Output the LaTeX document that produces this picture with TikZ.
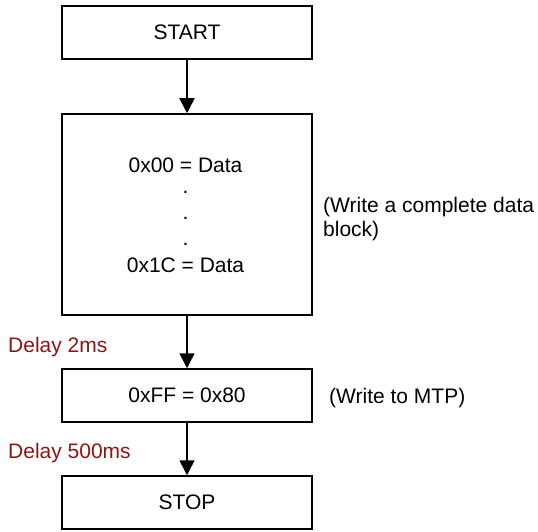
\documentclass[tikz,border=0pt]{standalone}
\usepackage{fontspec}
\setmainfont{Liberation Sans}
\usetikzlibrary{arrows.meta}
\definecolor{delayred}{RGB}{139,22,22}
\tikzset{
  flowbox/.style={draw=black, line width=1.5pt, minimum width=250pt, inner sep=0pt, font=\fontsize{21}{24}\selectfont},
  flowtext/.style={inner sep=0pt, font=\fontsize{21}{24}\selectfont},
  delaytext/.style={inner sep=0pt, text=delayred, font=\fontsize{21}{24}\selectfont},
  flowarrow/.style={line width=1.5pt, -{Triangle[length=15pt,width=15pt]}}
}
\begin{document}
\begin{tikzpicture}[x=1pt,y=-1pt]
\useasboundingbox (0,0) rectangle (538,532);
\fill[white] (0,0) rectangle (538,532);

\node[flowbox, minimum height=53pt] (start) at (187,32.5) {START};
\node[flowbox, minimum height=201pt] (block) at (187,214.5) {};
\node[flowbox, minimum height=53pt] (mtp) at (187,395.5) {0xFF = 0x80};
\node[flowbox, minimum height=53pt] (stop) at (187,502.5) {STOP};

\node[flowtext, anchor=base] (l1) at (185.5,172) {0x00 = Data};
\node[flowtext, anchor=base] (d1) at (185.5,193) {.};
\node[flowtext, anchor=base] (d2) at (185.5,219) {.};
\node[flowtext, anchor=base] (d3) at (185.5,245) {.};
\node[flowtext, anchor=base] (l2) at (185.5,272) {0x1C = Data};

\node[flowtext, anchor=north west, align=left] (note1) at (323,197.5) {(Write a complete data\\block)};
\node[flowtext, anchor=base west] (note2) at (329,403) {(Write to MTP)};

\node[delaytext, anchor=base west] (delay1) at (8,352) {Delay 2ms};
\node[delaytext, anchor=base west] (delay2) at (8,458) {Delay 500ms};

\draw[flowarrow] (start.south) -- (block.north);
\draw[flowarrow] (block.south) -- (mtp.north);
\draw[flowarrow] (mtp.south) -- (stop.north);
\end{tikzpicture}
\end{document}
